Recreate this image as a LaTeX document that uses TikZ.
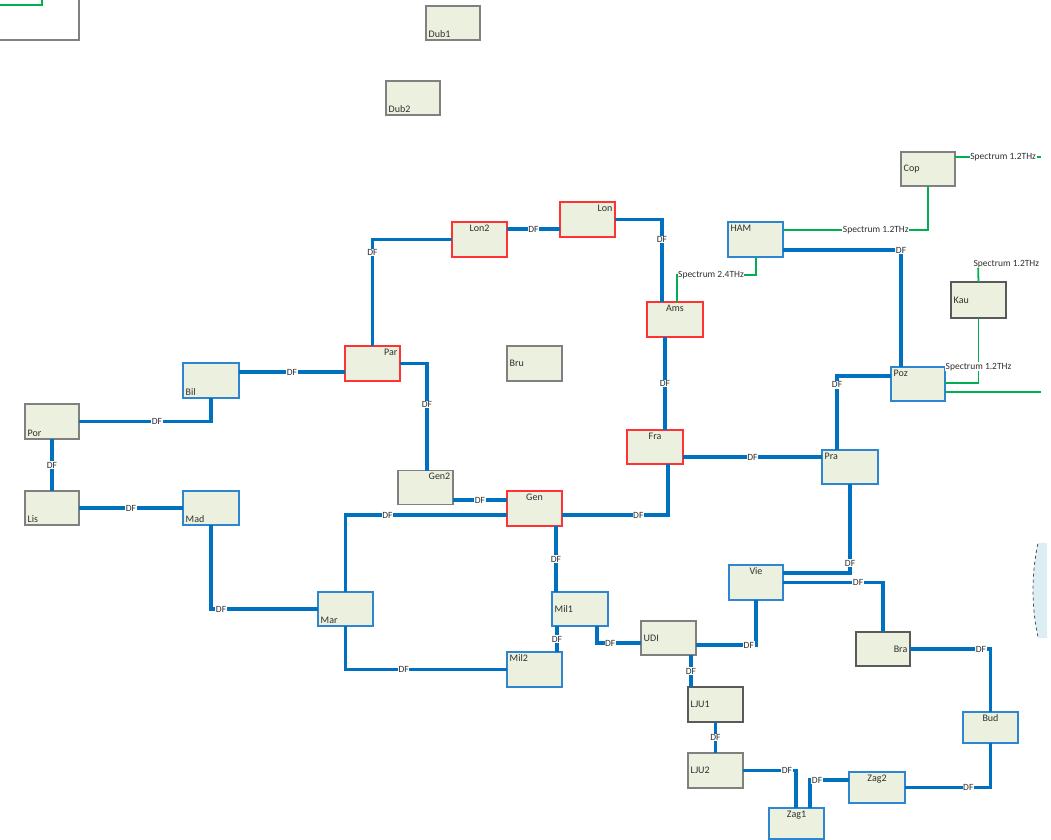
\documentclass[tikz,border=0pt]{standalone}
\usepackage{fontspec}
\setmainfont{Carlito}
\definecolor{boxfill}{HTML}{EBF1DE}
\definecolor{dfblue}{HTML}{0070C0}
\definecolor{bblue}{HTML}{2E86D0}
\definecolor{rred}{HTML}{FF3333}
\definecolor{ggray}{HTML}{808080}
\definecolor{dgray}{HTML}{5A5A5A}
\definecolor{sgreen}{HTML}{00B050}
\definecolor{txt}{HTML}{303030}
\definecolor{ellfill}{HTML}{DCEEF4}
\begin{document}
\begin{tikzpicture}[x=1pt,y=-1pt,
 box/.style={draw, fill=boxfill, line width=1.4pt, inner sep=0pt, outer sep=0pt, minimum width=54pt, minimum height=34pt},
 bluebox/.style={box, draw=bblue},
 redbox/.style={box, draw=rred},
 graybox/.style={box, draw=ggray, line width=1.1pt},
 dgraybox/.style={box, draw=dgray, line width=1.1pt},
 lab/.style={font=\fontsize{10}{11}\selectfont, text=txt, inner sep=2.5pt},
 df/.style={draw=dfblue, line width=3.6pt},
 dfl/.style={font=\fontsize{9.5}{10}\selectfont, text=txt, fill=white, inner sep=0.6pt},
 sp/.style={draw=sgreen, line width=1.8pt},
 spl/.style={font=\fontsize{9.5}{10}\selectfont, text=txt, fill=white, inner sep=0.6pt},
]
\useasboundingbox (0,0) rectangle (1051,839);
% partial ellipse at right edge
\begin{scope}
\clip (1028,543) rectangle (1047,637);
\draw[fill=ellfill, draw=black!70, dashed, line width=0.8pt] (1256,590) circle (223);
\end{scope}
\begin{scope}
\clip (0,0) rectangle (1041,839);
% top-left partial box
\draw[draw=ggray, fill=white, line width=1.1pt] (-5,-5) rectangle (79,40);
\draw[sp] (-2,5) -- (42,5) -- (42,-2);
% nodes
\node[graybox, label={[lab,anchor=south west]south west:Dub1}] (Dub1) at (453,23) {};
\node[graybox, label={[lab,anchor=south west]south west:Dub2}] (Dub2) at (413,98) {};
\node[graybox, label={[lab,anchor=west]west:Cop}] (Cop) at (928,169) {};
\node[bluebox, minimum width=55pt, minimum height=35pt, label={[lab,anchor=north west]north west:HAM}] (HAM) at (755.5,239.5) {};
\node[dgraybox, minimum width=55pt, minimum height=36pt, label={[lab,anchor=west]west:Kau}] (Kau) at (978.5,300) {};
\node[redbox, minimum width=55pt, minimum height=35pt, label={[lab,anchor=north]north:Lon2}] (Lon2) at (479.5,239.5) {};
\node[redbox, minimum width=55pt, minimum height=35pt, label={[lab,anchor=north east]north east:Lon}] (Lon) at (587.5,219.5) {};
\node[redbox, minimum width=56pt, minimum height=35pt, label={[lab,anchor=north]north:Ams}] (Ams) at (675,319.5) {};
\node[redbox, minimum width=55pt, minimum height=35pt, label={[lab,anchor=north east]north east:Par}] (Par) at (372.5,363.5) {};
\node[graybox, minimum width=55pt, minimum height=35pt, label={[lab,anchor=west]west:Bru}] (Bru) at (534.5,363.5) {};
\node[bluebox, minimum width=56pt, minimum height=35pt, label={[lab,anchor=south west]south west:Bil}] (Bil) at (211,380.5) {};
\node[graybox, minimum height=35pt, label={[lab,anchor=south west]south west:Por}] (Por) at (52,421.5) {};
\node[graybox, label={[lab,anchor=south west]south west:Lis}] (Lis) at (52,508) {};
\node[bluebox, minimum width=56pt, label={[lab,anchor=south west]south west:Mad}] (Mad) at (211,508) {};
\node[graybox, minimum width=55pt, label={[lab,anchor=north east]north east:Gen2}] (Gen2) at (425.5,487.5) {};
\node[redbox, minimum width=55pt, minimum height=35pt, label={[lab,anchor=north]north:Gen}] (Gen) at (534.5,508.5) {};
\node[bluebox, minimum width=56pt, label={[lab,anchor=west]west:Mil1}] (Mil1) at (580,609) {};
\node[bluebox, minimum width=55pt, minimum height=35pt, label={[lab,anchor=north west]north west:Mil2}] (Mil2) at (534.5,669.5) {};
\node[graybox, minimum width=55pt, label={[lab,anchor=west]west:UDI}] (UDI) at (668.5,638) {};
\node[bluebox, minimum width=55pt, label={[lab,anchor=south west]south west:Mar}] (Mar) at (345.5,609) {};
\node[redbox, minimum width=56pt, label={[lab,anchor=north]north:Fra}] (Fra) at (655,447) {};
\node[bluebox, minimum width=56pt, label={[lab,anchor=north west]north west:Pra}] (Pra) at (850,467) {};
\node[bluebox, label={[lab,anchor=north west]north west:Poz}] (Poz) at (918,384) {};
\node[bluebox, minimum height=35pt, label={[lab,anchor=north]north:Vie}] (Vie) at (756,582.5) {};
\node[dgraybox, label={[lab,anchor=east]east:Bra}] (Bra) at (883,649) {};
\node[dgraybox, minimum width=55pt, minimum height=35pt, label={[lab,anchor=west]west:LJU1}] (LJU1) at (715.5,704.5) {};
\node[graybox, minimum width=55pt, minimum height=35pt, label={[lab,anchor=west]west:LJU2}] (LJU2) at (715.5,770.5) {};
\node[bluebox, minimum width=55pt, minimum height=31pt, label={[lab,anchor=north]north:Zag1}] (Zag1) at (796.5,823.5) {};
\node[bluebox, minimum width=56pt, minimum height=31pt, label={[lab,anchor=north]north:Zag2}] (Zag2) at (877,787.5) {};
\node[bluebox, minimum width=55pt, minimum height=31pt, label={[lab,anchor=north]north:Bud}] (Bud) at (990.5,727.5) {};
% coordinates for free ends
\coordinate (copend) at (1041,157);
\coordinate (kautop) at (978,264);
\coordinate (pozend) at (1041,392);
% DF links
\draw[df] (Lon2.east |- 0,229) -- node[dfl]{DF} (Lon.west |- 0,229);
\draw[df] (Lon.east) -| node[dfl,pos=0.62]{DF} (Ams.north -| 662,0);
\draw[df] (Par.north) |- node[dfl,pos=0.44]{DF} (Lon2.west);
\draw[df] (Bil.east |- 0,372) -- node[dfl]{DF} (Par.west |- 0,372);
\draw[df] (Por.east) -| node[dfl,pos=0.295]{DF} (Bil.south);
\draw[df] (Por.south) -- node[dfl]{DF} (Lis.north);
\draw[df] (Lis.east) -- node[dfl]{DF} (Mad.west);
\draw[df] (Par.east) -| node[dfl,pos=0.69]{DF} (Gen2.north -| 427,0);
\draw[df] (Gen2.east |- 0,500) -- node[dfl]{DF} (Gen.west |- 0,500);
\draw[df] (Mar.north) |- node[dfl,pos=0.63]{DF} (Gen.west |- 0,515);
\draw[df] (Gen.east |- 0,515) -| node[dfl,pos=0.36]{DF} (Fra.south -| 668,0);
\draw[df] (Ams.south -| 665,0) -- node[dfl]{DF} (Fra.north -| 665,0);
\draw[df] (Fra.east |- 0,457) -- node[dfl]{DF} (Pra.west |- 0,457);
\draw[df] (Gen.south -| 556,0) -- node[dfl]{DF} (Mil1.north -| 556,0);
\draw[df] (Mad.south) |- node[dfl,pos=0.547]{DF} (Mar.west);
\draw[df] (Mar.south) |- node[dfl,pos=0.68]{DF} (Mil2.west);
\draw[df] (Mil1.south -| 557,0) -- node[dfl]{DF} (Mil2.north -| 557,0);
\draw[df] (Mil1.south -| 597,0) |- node[dfl,pos=0.65]{DF} (UDI.west |- 0,643);
\draw[df] (UDI.east |- 0,645) -| node[dfl,pos=0.44]{DF} (Vie.south);
\draw[df] (UDI.south -| 691,0) -- node[dfl]{DF} (LJU1.north -| 691,0);
\draw[df] (LJU1.south) -- node[dfl]{DF} (LJU2.north);
\draw[df] (LJU2.east) -| node[dfl,pos=0.415]{DF} (Zag1.north -| 796,0);
\draw[df] (Zag1.north -| 810,0) |- node[dfl,pos=0.59]{DF} (Zag2.west |- 0,780);
\draw[df] (Zag2.east) -| node[dfl,pos=0.37]{DF} (Bud.south);
\draw[df] (Bra.east) -| node[dfl,pos=0.44]{DF} (Bud.north);
\draw[df] (Vie.east |- 0,573) -| node[dfl,pos=0.556]{DF} (Pra.south);
\draw[df] (Vie.east) -| node[dfl,pos=0.375]{DF} (Bra.north);
\draw[df] (Pra.north -| 837,0) |- node[dfl,pos=0.44]{DF} (Poz.west |- 0,376);
\draw[df] (HAM.east |- 0,250) -| node[dfl,pos=0.5]{DF} (Poz.north -| 901,0);
% spectrum links
\draw[sp] (HAM.east |- 0,230) -| node[spl,pos=0.32]{Spectrum 1.2THz} (Cop.south);
\draw[sp] (Cop.east |- 0,157) -- node[spl,pos=0.56]{Spectrum 1.2THz} (copend);
\draw[sp] (Kau.north) -- (kautop) node[spl,anchor=west,xshift=-6pt]{Spectrum 1.2THz};
\draw[sp] (Kau.south) |- node[spl,pos=0.375]{Spectrum 1.2THz} (Poz.east |- 0,383);
\draw[sp] (Poz.east |- 0,392) -- (pozend);
\draw[sp] (HAM.south -| 756,0) -- (756,275) -- node[spl,pos=0.57]{Spectrum 2.4THz} (677,275) -- (Ams.north -| 677,0);
\end{scope}
\end{tikzpicture}
\end{document}
